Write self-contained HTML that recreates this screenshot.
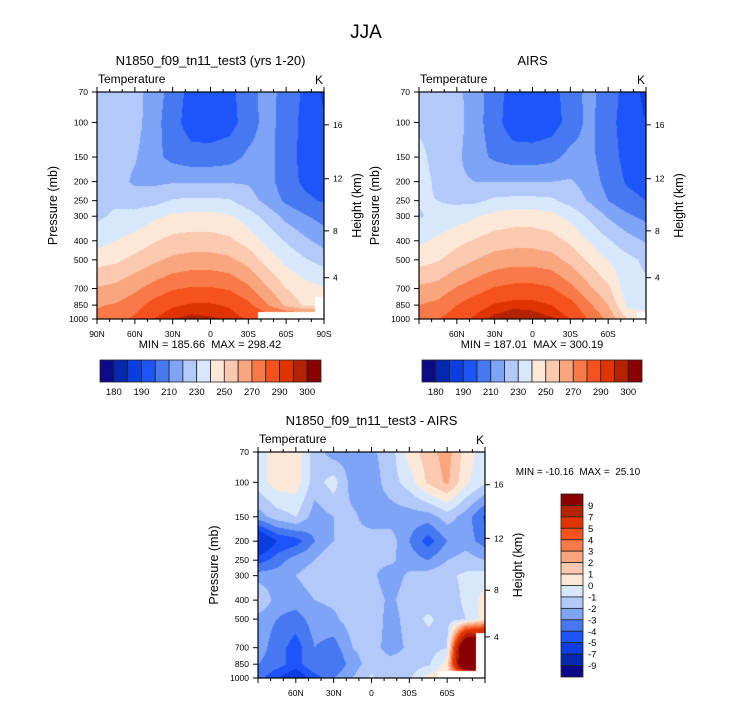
<!DOCTYPE html>
<html><head><meta charset="utf-8">
<style>
html,body{margin:0;padding:0;background:#fff;}
#root{position:relative;width:733px;height:703px;overflow:hidden;font-family:"Liberation Sans",sans-serif;}
canvas{position:absolute;}
svg{position:absolute;left:0;top:0;}
text{white-space:pre;}
</style></head>
<body>
<div id="root">
<canvas id="c1"></canvas>
<canvas id="c2"></canvas>
<canvas id="c3"></canvas>
<svg id="s" width="733" height="703"></svg>
</div>
<script>
const lats = [90,75,60,45,30,15,0,-15,-30,-45,-60,-75,-90];
const pLevels = [70,100,150,200,250,300,400,500,700,850,1000];
const modelT = [
[225,225,224,215,206,196,195,197,206,214,206,198,188],
[225,225,224,214,204,195,194,196,205,214,205,197,191],
[225,224,221,213,207,204,204,206,212,214,204,197,193],
[226,225,218,218,219,219,219,219,219,214,204,198,195],
[227,228,226,226,231,232,232,231,224,217,208,202,199],
[228,232,233,238,242,243,243,241,235,226,217,211,206],
[236,240,244,249,253,254,254,252,246,237,229,222,216],
[246,248,253,258,262,264,264,262,256,246,237,231,226],
[261,263,268,274,279,281,281,279,272,261,250,244,241],
[269,271,276,284,289,291,291,289,283,271,258,248,NaN],
[273,276,282,290,295,297,296,294,289,NaN,NaN,NaN,NaN]];
const airsT = [
[226,226,223,214,205,195,194,196,205,213,205,196,187],
[228,226,224,214,204,194,193,195,204,213,203,196,190],
[233,226,222,214,208,205,205,207,213,213,204,197,193],
[234,228,222,220,220,220,220,220,221,216,206,199,196],
[231,230,228,228,232,233,233,232,226,219,210,203,200],
[229,233,235,239,243,245,245,243,237,228,219,212,207],
[238,242,247,251,255,256,256,254,248,239,231,224,219],
[246,249,255,260,264,266,266,264,257,248,239,233,228],
[262,264,271,276,281,283,283,281,273,262,252,234,232],
[270,273,280,286,291,293,293,290,284,272,260,238,232],
[276,280,285,292,297,300,298,296,290,279,268,250,NaN]];
const diffT = [
[-0.5,0.5,0.5,-1.5,-2.5,-2.5,-2.2,-1.5,0.5,1.5,2.5,0.5,-0.5],
[-0.5,0.5,0.5,-1.5,-0.5,-2.5,-2.5,-1.5,-0.5,1.2,2.2,0.2,-0.8],
[-2.5,-1.5,-1,-2.5,-2,-1.8,-2.5,-2.5,-2.5,-2.5,-1.5,-2.5,-4.2],
[-7,-5,-4.5,-3,-2,-1.8,-1.5,-1.5,-3,-4.5,-3,-2.5,-3.5],
[-4.5,-3.5,-2.5,-2,-1,-1.8,-1.8,-1.8,-2.5,-3,-2,-1.5,-2],
[-2.5,-2.5,-2,-1.5,-1.5,-1.8,-1.8,-2.5,-1.8,-1.5,-1.2,-0.8,-0.5],
[-0.8,-2.5,-2.5,-2,-1.8,-1.5,-1.5,-2.2,-1.5,-1.5,-1.5,-0.8,0.5],
[-2.5,-3,-3.5,-2.5,-2.2,-1.5,-1.2,-2.5,-1.5,-0.8,-1.5,-1,0.5],
[-2.5,-3.5,-4.5,-3,-3.5,-2,-1.5,-2.5,-1.8,-1.5,-1,15,NaN],
[-3,-3.5,-4.5,-3,-4,-2.5,-1.5,-1.5,-1.5,-1.2,0.5,15,NaN],
[-3.5,-5,-6,-4.5,-3,-2,-0.8,-1.8,-1.2,0.5,NaN,NaN,NaN]];
const tempLevels = [180,185,190,200,210,220,230,240,250,260,270,280,290,295,300];
const tempBarLabels = ["180","190","210","230","250","270","290","300"];
const diffLevels = [-9,-7,-5,-4,-3,-2,-1,0,1,2,3,4,5,7,9];
const colors = ['#0b0b88','#0428b0','#0a3ee0','#1e55fa','#4678f2','#7ea4f8','#b2c9fa','#d8e8fc','#fde8d8','#fbc8b0','#f9a67e','#f97a48','#f6521e','#e03400','#b42200','#8a0000'];
const pTicks = [70,100,150,200,250,300,400,500,700,850,1000];
const hTicks = [4,8,12,16];
const latTicks = [90,60,30,0,-30,-60,-90];

const NS='http://www.w3.org/2000/svg';
const svg=document.getElementById('s');
function el(tag,attrs,parent){const e=document.createElementNS(NS,tag);for(const k in attrs)e.setAttribute(k,attrs[k]);(parent||svg).appendChild(e);return e;}
function txt(x,y,s,size,anchor,name,parent,rot){const t=el('text',{x:x,y:y,'font-size':size,'text-anchor':anchor||'start',fill:'#000'},parent);


if(rot)t.setAttribute('transform','rotate(-90 '+x+' '+y+')');t.textContent=s;return t;}
function hex(c){return [parseInt(c.slice(1,3),16),parseInt(c.slice(3,5),16),parseInt(c.slice(5,7),16)];}
const rgb=colors.map(hex);
const L=Math.log(1000/70);
function stdP(z){const m=z*1000;return m<=11000?1013.25*Math.pow(1-2.25577e-5*m,5.25588):226.32*Math.exp(-(m-11000)/6341.6);}
function levelIndex(v,lv){let i=0;while(i<lv.length&&v>=lv[i])i++;return i;}

function panel(o){
  const {x0,y0,w,h,grid,lv,canvasId,title,latLabelSet,name}=o;
  const xOf=lat=>x0+w*(90-lat)/180;
  const yOf=p=>y0+h*Math.log(p/70)/L;
  const cv=document.getElementById(canvasId);
  cv.width=w;cv.height=h;cv.style.left=x0+'px';cv.style.top=y0+'px';
  const ctx=cv.getContext('2d');const img=ctx.createImageData(w,h);
  const nr=grid.length,nc=grid[0].length;
  const g=grid.map(r=>r.slice());
  for(let i=0;i<nr;i++)for(let j=0;j<nc;j++)if(isNaN(g[i][j]))g[i][j]=isNaN(g[i][j-1])?g[i-1][j]:g[i][j-1];
  const lp=pLevels.map(p=>Math.log(p));
  for(let py=0;py<h;py++){
    const p=70*Math.exp((py+0.5)/h*L),l=Math.log(p);
    let i=0;while(i<nr-2&&l>lp[i+1])i++;
    let t=(l-lp[i])/(lp[i+1]-lp[i]);t=Math.max(0,Math.min(1,t));
    for(let px=0;px<w;px++){
      const lat=90-(px+0.5)/w*180;
      const fj=(90-lat)/15;let j=Math.min(nc-2,Math.floor(fj));const s=fj-j;
      const ni=t<0.5?i:i+1,nj=s<0.5?j:j+1;
      const k=(py*w+px)*4;
      if(isNaN(grid[ni][nj])){img.data[k]=255;img.data[k+1]=255;img.data[k+2]=255;img.data[k+3]=255;continue;}
      const v=(1-t)*((1-s)*g[i][j]+s*g[i][j+1])+t*((1-s)*g[i+1][j]+s*g[i+1][j+1]);
      const c=rgb[levelIndex(v,lv)];
      img.data[k]=c[0];img.data[k+1]=c[1];img.data[k+2]=c[2];img.data[k+3]=255;
    }
  }
  ctx.putImageData(img,0,0);
  const gr=el('g',{});
  
  
  el('rect',{x:x0,y:y0,width:w,height:h,fill:'none',stroke:'#000','stroke-width':1.2},gr);
  pTicks.forEach(p=>{const y=yOf(p);el('line',{x1:x0-5,y1:y,x2:x0,y2:y,stroke:'#000'},gr);
    txt(x0-9,y+3,String(p),8.5,'end','pressure-tick-label',gr);});
  hTicks.forEach(z=>{const y=yOf(stdP(z));el('line',{x1:x0+w,y1:y,x2:x0+w+5,y2:y,stroke:'#000'},gr);
    txt(x0+w+9,y+3,String(z),8.5,'start','height-tick-label',gr);});
  for(let lat=90;lat>=-90;lat-=10){const x=xOf(lat);const major=lat%30===0;const len=major?5:3;
    el('line',{x1:x,y1:y0+h,x2:x,y2:y0+h+len,stroke:'#000'},gr);
    el('line',{x1:x,y1:y0,x2:x,y2:y0-len,stroke:'#000'},gr);}
  latTicks.forEach(lat=>{if(!latLabelSet.includes(lat))return;
    const s=lat===0?'0':(Math.abs(lat)+(lat>0?'N':'S'));
    txt(xOf(lat),y0+h+18,s,8.5,'middle','latitude-tick-label',gr);});
  txt(x0+w/2,y0-27,title,13,'middle',name+'-title',gr);
  txt(x0+1,y0-9,'Temperature',12,'start',name+'-variable-label',gr);
  txt(x0+w-1,y0-8,'K',12,'end',name+'-units-label',gr);
  txt(x0-40,y0+h/2,'Pressure (mb)',12.5,'middle','pressure-axis-title',gr,true);
  txt(x0+w+37,y0+h/2,'Height (km)',12.5,'middle','height-axis-title',gr,true);
}
function hbar(x0,y0,w,h,name){
  const g=el('g',{});
  
  
  const bw=w/colors.length;
  colors.forEach((c,i)=>{const r=el('rect',{x:x0+i*bw,y:y0,width:bw,height:h,fill:c,stroke:'#222','stroke-width':0.8},g);
    
    });
  tempBarLabels.forEach((s,k)=>{const i=k*2;txt(x0+(i+1)*bw,y0+h+13,s,9.5,'middle','colorbar-label',g);});
}
function vbar(x0,y0,w,h,name){
  const g=el('g',{});
  
  
  const bh=h/colors.length;
  colors.slice().reverse().forEach((c,i)=>{const r=el('rect',{x:x0,y:y0+i*bh,width:w,height:bh,fill:c,stroke:'#222','stroke-width':0.8},g);
    
    });
  diffLevels.slice().reverse().forEach((v,i)=>{txt(x0+w+5,y0+(i+1)*bh+3.5,String(v),9.5,'start','colorbar-label',g);});
}
txt(366,38,'JJA',19,'middle','figure-title');
panel({x0:97,y0:92,w:227,h:227,grid:modelT,lv:tempLevels,canvasId:'c1',title:'N1850_f09_tn11_test3 (yrs 1-20)',latLabelSet:[90,60,30,0,-30,-60,-90],name:'model-panel'});
txt(210,348,'MIN = 185.66  MAX = 298.42',11,'middle','model-min-max');
hbar(100,360,221,22,'model-colorbar');
panel({x0:419,y0:92,w:227,h:227,grid:airsT,lv:tempLevels,canvasId:'c2',title:'AIRS',latLabelSet:[60,30,0,-30,-60],name:'airs-panel'});
txt(532,348,'MIN = 187.01  MAX = 300.19',11,'middle','airs-min-max');
hbar(422,360,220,22,'airs-colorbar');
panel({x0:258,y0:452,w:227,h:226,grid:diffT,lv:diffLevels,canvasId:'c3',title:'N1850_f09_tn11_test3 - AIRS',latLabelSet:[60,30,0,-30,-60],name:'difference-panel'});
txt(578,475,'MIN = -10.16  MAX =  25.10',10,'middle','difference-min-max');
vbar(561,494,22,183,'difference-colorbar');
</script>
</body></html>
